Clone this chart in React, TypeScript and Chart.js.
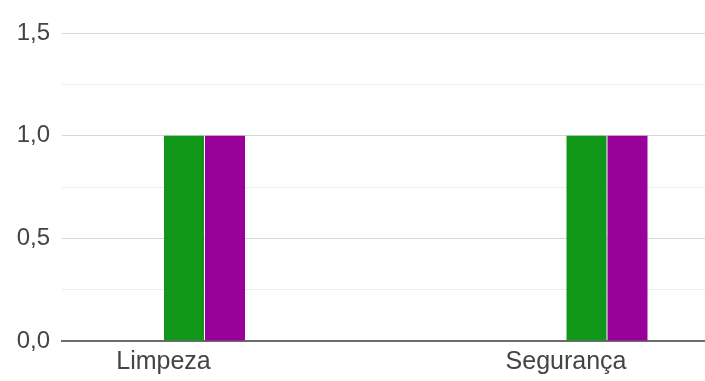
import React, { useEffect, useRef } from "react";
import { Chart, registerables } from "chart.js";

Chart.register(...registerables);

const categories = ["Limpeza", "Segurança"];
const seriesNames = ["Série 1", "Série 2", "Série 3", "Série 4", "Série 5", "Série 6"];
const seriesColors = ["#3366cc", "#dc3912", "#ff9900", "#109618", "#990099", "#0099c6"];
const series1 = [0, 0];
const series2 = [0, 0];
const series3 = [0, 0];
const series4 = [1, 1];
const series5 = [1, 1];
const series6 = [0, 0];
const allSeries = [series1, series2, series3, series4, series5, series6];
const yTicks = [0, 0.5, 1, 1.5];

const FONT = "'Liberation Sans', Arial, sans-serif";
const TEXT = "#444444";

export default function App() {
  const ref = useRef<HTMLCanvasElement | null>(null);

  useEffect(() => {
    if (!ref.current) return;
    const chart = new Chart(ref.current, {
      type: "bar",
      data: {
        datasets: allSeries.map((vals, si) => ({
          label: seriesNames[si],
          data: vals.map((v, i) => ({ x: i, y: v })),
          backgroundColor: seriesColors[si],
          borderWidth: 0,
          categoryPercentage: 0.611,
          barPercentage: 0.976,
        })),
      },
      options: {
        responsive: false,
        animation: false,
        devicePixelRatio: 1,
        layout: { padding: { top: 33, left: 0, right: 0, bottom: 0 } },
        plugins: {
          legend: { display: false },
          tooltip: { enabled: false },
        },
        scales: {
          x: {
            type: "linear",
            min: -0.2522,
            max: 1.3453,
            offset: false,
            z: 1,
            grid: { display: false, drawTicks: false, offset: false },
            border: { display: true, color: "#6b6b6b", width: 2 },
            afterBuildTicks: (scale: any) => {
              scale.ticks = categories.map((_, i) => ({ value: i }));
            },
            afterFit: (scale: any) => {
              scale.height = 40;
            },
            ticks: {
              autoSkip: false,
              maxRotation: 0,
              padding: 6,
              color: TEXT,
              font: { family: FONT, size: 25 },
              callback: (v: any) => categories[Math.round(Number(v))] ?? "",
            },
          },
          y: {
            min: 0,
            max: 1.5,
            border: { display: false },
            afterFit: (scale: any) => {
              scale.width = 62;
            },
            grid: {
              drawTicks: false,
              lineWidth: 1,
              color: (ctx: any) => {
                const v = ctx.tick ? ctx.tick.value : 0;
                if (Math.abs(v) < 1e-9) return "rgba(0,0,0,0)";
                return yTicks.some((t) => Math.abs(t - v) < 1e-9) ? "#d6d6d6" : "#ececec";
              },
            },
            ticks: {
              stepSize: 0.25,
              padding: 12,
              color: TEXT,
              font: { family: FONT, size: 24 },
              callback: (v: any) => {
                const n = Number(v);
                return yTicks.some((t) => Math.abs(t - n) < 1e-9) ? n.toFixed(1).replace(".", ",") : "";
              },
            },
          },
        },
      },
    });
    return () => chart.destroy();
  }, []);

  return (
    <div style={{ position: "fixed", left: 0, top: 0, width: 705, height: 381, background: "#fff" }}>
      <canvas ref={ref} width={705} height={381} />
    </div>
  );
}
